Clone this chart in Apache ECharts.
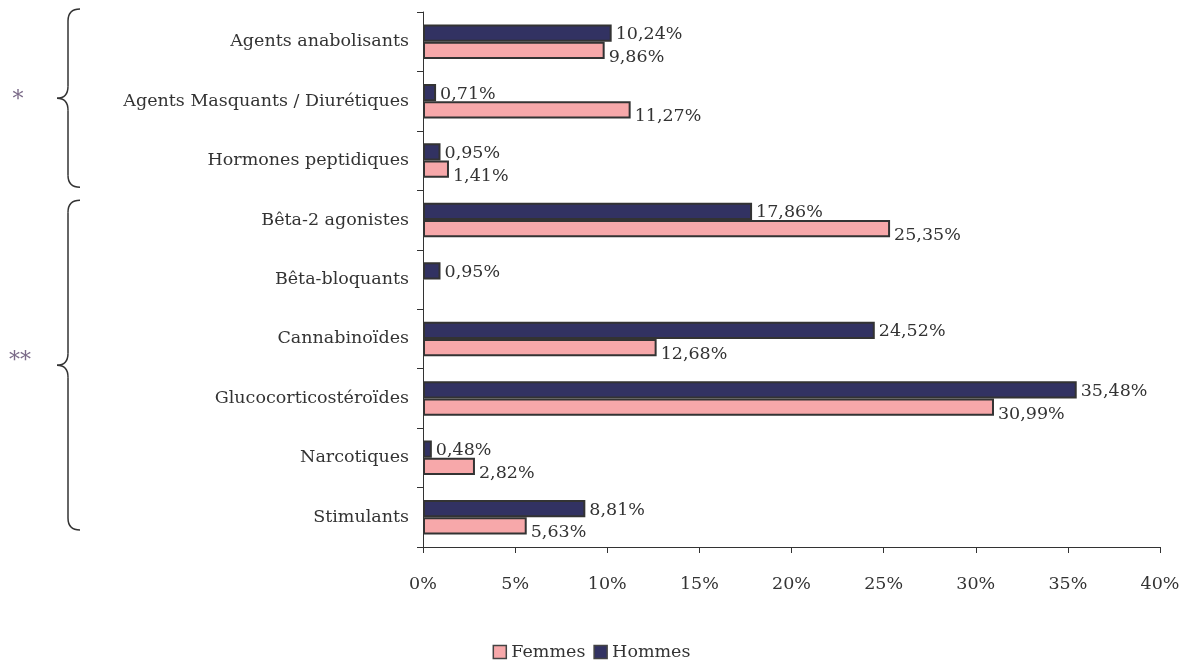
<!DOCTYPE html>
<html><head><meta charset="utf-8">
<script src="https://cdn.jsdelivr.net/npm/echarts@6/dist/echarts.min.js"></script>
<style>html,body{margin:0;padding:0;background:#fff}#c{width:1183px;height:662px}</style>
</head><body><div id="c"></div>
<script>
const categories = ['Agents anabolisants','Agents Masquants / Diurétiques','Hormones peptidiques','Bêta-2 agonistes','Bêta-bloquants','Cannabinoïdes','Glucocorticostéroïdes','Narcotiques','Stimulants'];
const hommes = [10.24, 0.71, 0.95, 17.86, 0.95, 24.52, 35.48, 0.48, 8.81];
const femmes = [9.86, 11.27, 1.41, 25.35, null, 12.68, 30.99, 2.82, 5.63];
const xTicks = [0, 5, 10, 15, 20, 25, 30, 35, 40];
const groups = [{label:'*', from:0, to:2}, {label:'**', from:3, to:8}];

const FONT = '"DejaVu Serif", "Liberation Serif", serif';
const TXT = '#333';
const FS = 17.5;
const fmt = v => v.toFixed(2).replace('.', ',') + '%';

const chart = echarts.init(document.getElementById('c'));
const lbl = {show:true, position:'right', distance:4, color:TXT, fontFamily:FONT, fontSize:FS,
  formatter: p => p.value == null ? '' : fmt(p.value)};
chart.setOption({
  animation:false,
  grid:{left:423, right:23, top:12, bottom:115, containLabel:false},
  legend:{data:['Femmes','Hommes'], top:638, left:'center', icon:'rect', itemWidth:13, itemHeight:13, itemGap:8,
    itemStyle:{borderColor:'#444', borderWidth:1.5},
    textStyle:{color:TXT, fontFamily:FONT, fontSize:FS}},
  xAxis:{type:'value', min:xTicks[0], max:xTicks[xTicks.length-1], interval:xTicks[1]-xTicks[0],
    axisLine:{show:true, lineStyle:{color:'#333'}},
    axisTick:{show:true, length:6, lineStyle:{color:'#333'}},
    splitLine:{show:false},
    axisLabel:{margin:28, color:TXT, fontFamily:FONT, fontSize:FS, formatter:v=>v+'%'}},
  yAxis:{type:'category', data:categories, inverse:true,
    axisLine:{show:true, lineStyle:{color:'#333'}},
    axisTick:{show:true, length:6, lineStyle:{color:'#333'}},
    axisLabel:{margin:14, color:TXT, fontFamily:FONT, fontSize:FS}},
  series:[
    {name:'Hommes', type:'bar', data:hommes, barWidth:'29%', barGap:'0%',
      itemStyle:{color:'#323262', borderColor:'#333', borderWidth:2}, label:Object.assign({}, lbl, {offset:[0,1.5]})},
    {name:'Femmes', type:'bar', data:femmes, barWidth:'29%', barGap:'0%',
      itemStyle:{color:'#F7A8AA', borderColor:'#333', borderWidth:2}, label:Object.assign({}, lbl, {offset:[0,7]})}
  ]
});

function drawBraces(){
  const py = c => chart.convertToPixel({yAxisIndex:0}, c);
  const band = py(categories[1]) - py(categories[0]);
  const els = [];
  const st = {stroke:'#333', lineWidth:1.5, fill:'none'};
  groups.forEach((g, i) => {
    const yTop = py(categories[g.from]) - band/2 + (i===0 ? -3 : 10);
    const yBot = py(categories[g.to]) + band/2 - (i===0 ? 3 : 17);
    const mid = (yTop + yBot)/2;
    const xr = 80, xv = 68, xt = 57, r = 12;
    els.push({type:'bezierCurve', shape:{x1:xr, y1:yTop, x2:xv, y2:yTop+r, cpx1:xv, cpy1:yTop}, style:st});
    els.push({type:'line', shape:{x1:xv, y1:yTop+r, x2:xv, y2:mid-r}, style:st});
    els.push({type:'bezierCurve', shape:{x1:xv, y1:mid-r, x2:xt, y2:mid, cpx1:xv, cpy1:mid}, style:st});
    els.push({type:'bezierCurve', shape:{x1:xt, y1:mid, x2:xv, y2:mid+r, cpx1:xv, cpy1:mid}, style:st});
    els.push({type:'line', shape:{x1:xv, y1:mid+r, x2:xv, y2:yBot-r}, style:st});
    els.push({type:'bezierCurve', shape:{x1:xv, y1:yBot-r, x2:xr, y2:yBot, cpx1:xv, cpy1:yBot}, style:st});
    els.push({type:'text', x:g.label.length === 1 ? 18 : 20, y:mid + (i===0 ? 2 : -4), style:{text:g.label, fill:'#7a6a88', font:'22px ' + FONT, textAlign:'center', textVerticalAlign:'middle'}});
  });
  chart.setOption({graphic:els});
}
drawBraces();
</script></body></html>
